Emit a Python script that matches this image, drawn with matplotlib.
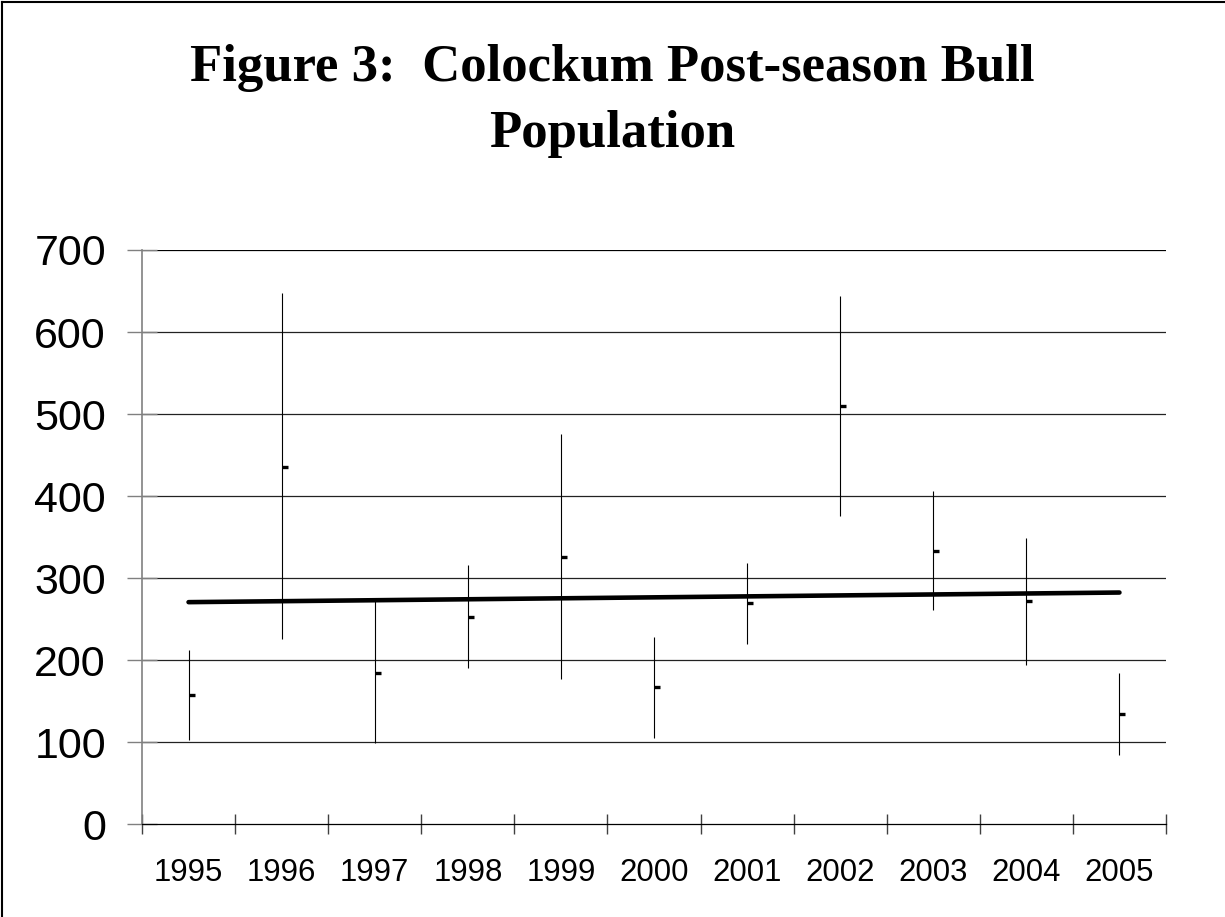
import matplotlib
matplotlib.use("Agg")
import matplotlib.pyplot as plt
from matplotlib.lines import Line2D
import numpy as np

# ---- data ----
years = ["1995", "1996", "1997", "1998", "1999", "2000",
         "2001", "2002", "2003", "2004", "2005"]
high = [213, 647, 272, 316, 476, 228, 318, 644, 406, 349, 184]
low = [103, 226, 99, 190, 177, 105, 220, 376, 261, 194, 84]
estimate = [158, 436, 184, 253, 326, 167, 270, 510, 333, 272, 134]
y_ticks = [0, 100, 200, 300, 400, 500, 600, 700]
title_lines = ["Figure 3:  Colockum Post-season Bull", "Population"]

W, H, DPI = 1225, 917, 100
fig = plt.figure(figsize=(W / DPI, H / DPI), dpi=DPI)
fig.patch.set_facecolor("white")

ax = fig.add_axes([142 / W, (H - 824.3) / H, (1166 - 142) / W, (824.3 - 250) / H])

x = np.arange(len(years)) + 0.5

# gridlines
for t in y_ticks[1:]:
    ax.axhline(t, color="#222222" if t < 700 else "black", lw=0.9, zorder=1)

# high-low lines
ax.vlines(x, low, high, colors="black", lw=0.8, zorder=2)
# estimates: right-facing tick
ax.plot(x, estimate, linestyle="none", marker=1, markersize=4.5,
        markeredgewidth=2.4, color="black", zorder=3)

# linear trendline
coef = np.polyfit(np.arange(len(years)), estimate, 1)
trend = np.polyval(coef, np.arange(len(years)))
ax.plot(x, trend, color="black", lw=3.3, solid_capstyle="round", zorder=4)

ax.set_xlim(0, len(years))
ax.set_ylim(0, 700)
ax.set_yticks(y_ticks)
ax.set_yticklabels([str(t) for t in y_ticks])
ax.set_xticks(np.arange(len(years) + 1))
ax.set_xticklabels([])
ax.set_xticks(x, minor=True)
ax.set_xticklabels(years, minor=True)

for s in ["top", "right"]:
    ax.spines[s].set_visible(False)
ax.spines["left"].set_color("#808080")
ax.spines["left"].set_linewidth(1.2)
ax.spines["bottom"].set_color("black")
ax.spines["bottom"].set_linewidth(0.9)

ax.tick_params(axis="y", direction="inout", length=20.9, width=1.0,
               color="#808080", pad=15.5, labelsize=31,
               labelfontfamily="Liberation Sans")
ax.tick_params(axis="x", which="major", direction="inout", length=14.4,
               width=1.0, color="#404040")
ax.tick_params(axis="x", which="minor", length=0, pad=24,
               labelsize=22.4, labelfontfamily="Liberation Sans")

# two-line title, each line placed on its own baseline
for line, base_px in zip(title_lines, [81, 147]):
    fig.text(0.5, 1 - base_px / H, line, ha="center", va="baseline",
             fontsize=38, fontweight="bold", family="Liberation Serif")

# figure border (top and left)
fig.add_artist(Line2D([1.5 / W, 1.5 / W], [0, 1 - 2 / H], color="black",
                      lw=1.5, transform=fig.transFigure))
fig.add_artist(Line2D([1.5 / W, 1], [1 - 2 / H, 1 - 2 / H], color="black",
                      lw=1.5, transform=fig.transFigure))

fig.savefig("out.png", dpi=DPI)
